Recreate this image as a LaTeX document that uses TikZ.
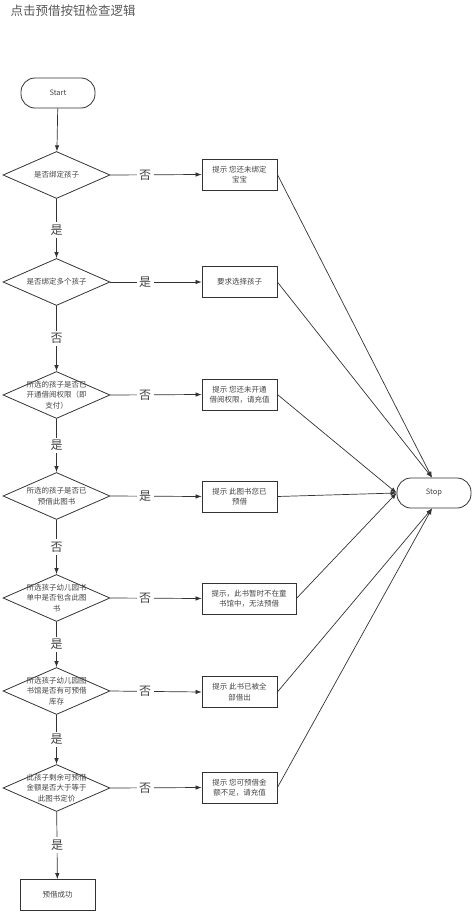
\documentclass[tikz,border=0pt]{standalone}
\usepackage{fontspec}
\setmainfont{Noto Sans CJK SC}
\usetikzlibrary{shapes.geometric,arrows.meta}
\definecolor{ln}{HTML}{333333}
\definecolor{tx}{HTML}{444444}
\tikzset{
  every node/.style={text=tx},
  pill/.style={draw=ln,line width=0.8pt,rectangle,rounded corners=14pt,minimum width=74pt,minimum height=30pt,inner sep=0pt,font=\fontsize{7.5}{9}\selectfont},
  dia/.style={draw=ln,line width=0.8pt,diamond,minimum width=107pt,minimum height=47pt,inner sep=0pt},
  dtext/.style={align=center,font=\fontsize{7.5}{10.5}\selectfont,inner sep=0pt},
  box/.style={draw=ln,line width=0.8pt,rectangle,minimum width=75pt,minimum height=31pt,align=center,inner sep=1pt,font=\fontsize{7.5}{10.5}\selectfont},
  arr/.style={draw=ln,line width=0.7pt,-{Latex[length=6pt,width=4.5pt]}},
  lab/.style={fill=white,inner sep=2.5pt,font=\fontsize{12}{12}\selectfont,text=tx},
}
\begin{document}
\begin{tikzpicture}[x=1pt,y=-1pt]
\useasboundingbox (0,0) rectangle (474,915);
\node[anchor=west,font=\fontsize{12.5}{13}\selectfont,text=black!65] (title) at (7,11) {点击预借按钮检查逻辑};
\node[pill] (start) at (58,93) {Start};
\node[pill] (stop) at (434,493) {Stop};
% diamonds
\node[dia] (d1) at (56.5,175) {};
\node[dtext] at (d1) {是否绑定孩子};
\node[dia] (d2) at (56.5,282) {};
\node[dtext] at (d2) {是否绑定多个孩子};
\node[dia] (d3) at (56.5,395) {};
\node[dtext] at (d3) {所选的孩子是否已\\开通借阅权限（即\\支付）};
\node[dia] (d4) at (56.5,496) {};
\node[dtext] at (d4) {所选的孩子是否已\\预借此图书};
\node[dia] (d5) at (56.5,598) {};
\node[dtext] at (d5) {所选孩子幼儿园书\\单中是否包含此图\\书};
\node[dia] (d6) at (56.5,691) {};
\node[dtext] at (d6) {所选孩子幼儿园图\\书馆是否有可预借\\库存};
\node[dia] (d7) at (56.5,788) {};
\node[dtext] at (d7) {此孩子剩余可预借\\金额是否大于等于\\此图书定价};
\node[box] (ok) at (57.5,895) {预借成功};
% boxes
\node[box] (b1) at (239.5,174.5) {提示 您还未绑定\\宝宝};
\node[box] (b2) at (239.5,282) {要求选择孩子};
\node[box] (b3) at (239.5,394.5) {提示 您还未开通\\借阅权限，请充值};
\node[box] (b4) at (239.5,496.5) {提示 此图书您已\\预借};
\node[box,minimum width=94pt] (b5) at (249,598.5) {提示，此书暂时不在童\\书馆中，无法预借};
\node[box] (b6) at (239.5,692) {提示 此书已被全\\部借出};
\node[box] (b7) at (239.5,787.5) {提示 您可预借金\\额不足，请充值};
% vertical flow
\draw[arr] (start) -- (d1);
\draw[arr] (d1) -- node[lab,pos=0.53] {是} (d2);
\draw[arr] (d2) -- node[lab,pos=0.5] {否} (d3);
\draw[arr] (d3) -- node[lab,pos=0.5] {是} (d4);
\draw[arr] (d4) -- node[lab,pos=0.5] {否} (d5);
\draw[arr] (d5) -- node[lab,pos=0.5] {是} (d6);
\draw[arr] (d6) -- node[lab,pos=0.5] {是} (d7);
\draw[arr] (d7) -- node[lab,pos=0.49] {是} (ok);
% horizontal flow
\draw[arr] (d1.east) -- node[lab,pos=0.38] {否} (b1.west);
\draw[arr] (d2.east) -- node[lab,pos=0.38] {是} (b2.west);
\draw[arr] (d3.east) -- node[lab,pos=0.38] {否} (b3.west);
\draw[arr] (d4.east) -- node[lab,pos=0.38] {是} (b4.west);
\draw[arr] (d5.east) -- node[lab,pos=0.38] {否} (b5.west);
\draw[arr] (d6.east) -- node[lab,pos=0.38] {否} (b6.west);
\draw[arr] (d7.east) -- node[lab,pos=0.38] {否} (b7.west);
% to stop
\draw[arr] (b1.east) -- ([xshift=-2pt]stop.north);
\draw[arr] (b2.east) -- ([xshift=-2pt]stop.north);
\draw[arr] (b3.east) -- (stop.west);
\draw[arr] (b4.east) -- (stop.west);
\draw[arr] (b5.east) -- (stop.west);
\draw[arr] (b6.east) -- ([xshift=-2pt]stop.south);
\draw[arr] (b7.east) -- ([xshift=-2pt]stop.south);
\end{tikzpicture}
\end{document}
